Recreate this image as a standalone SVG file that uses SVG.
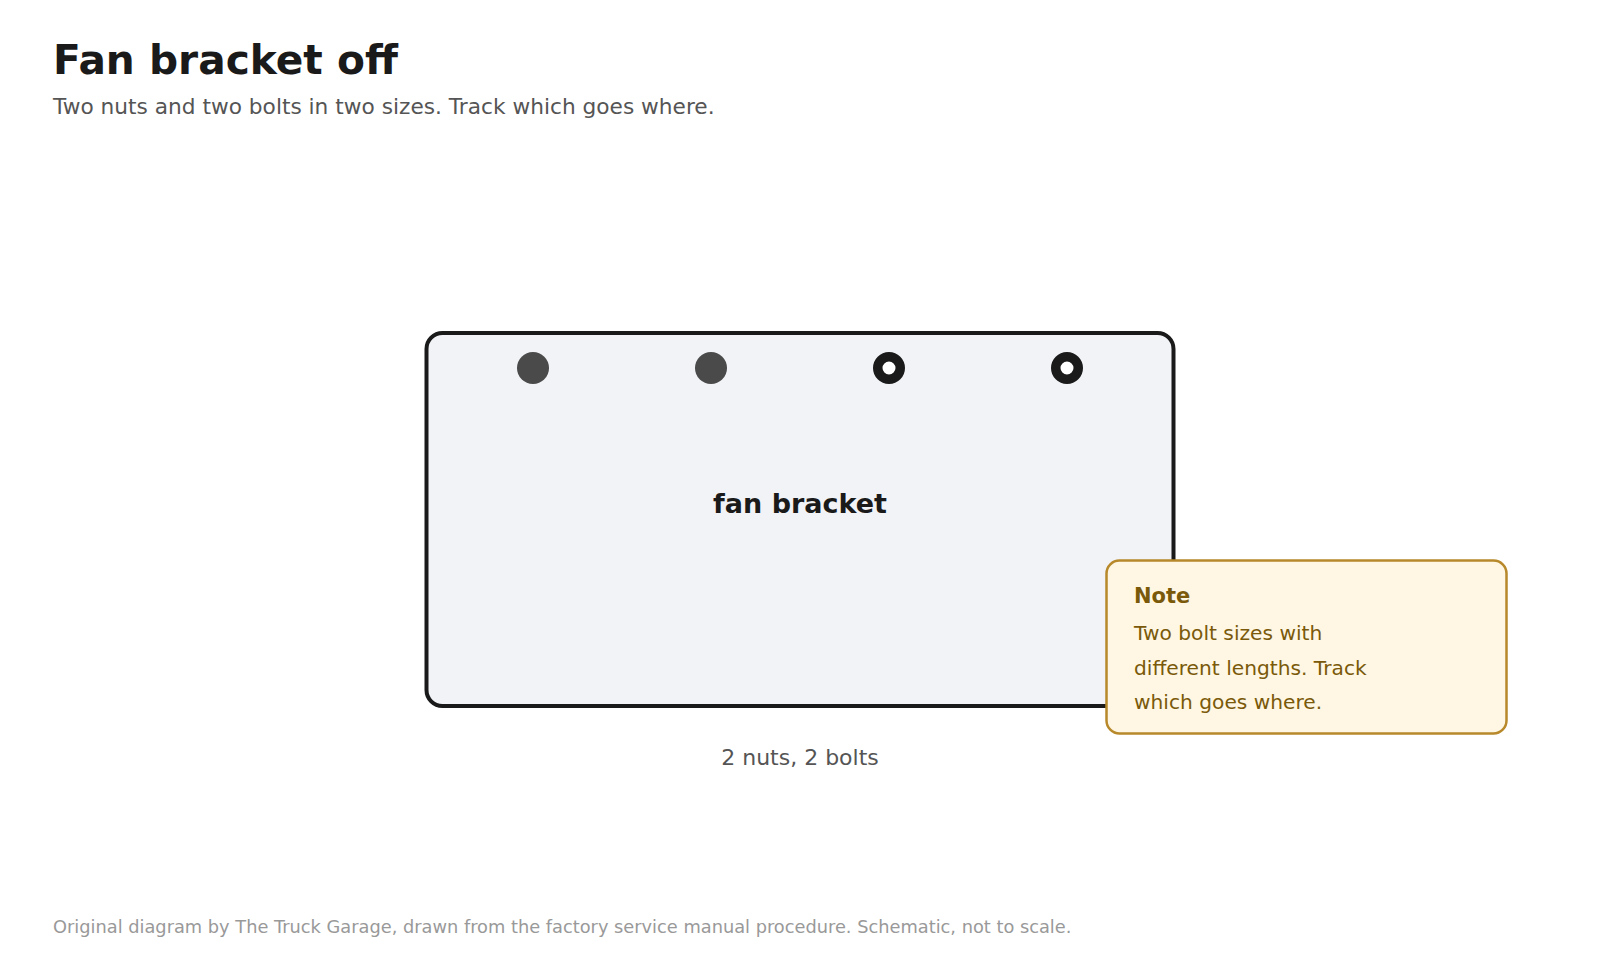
<svg xmlns="http://www.w3.org/2000/svg" width="1600" height="960" viewBox="0 0 1600 960">
<style>
text{font-family:"DejaVu Sans","Liberation Sans",sans-serif}
.title{font-size:40.7px;font-weight:bold;fill:#1a1a1a}
.sub{font-size:21.7px;fill:#555}
.foot{font-size:17.8px;fill:#999}
.bracket{fill:#f2f3f7;stroke:#1a1a1a;stroke-width:4}
.blabel{font-size:27px;font-weight:bold;fill:#1a1a1a}
.cap{font-size:22px;fill:#555}
.solid{fill:#4a4a4a}
.ring{fill:#fff;stroke:#1a1a1a;stroke-width:9.5}
.note{fill:#fff7e4;stroke:#b8892a;stroke-width:2.5}
.nh{font-size:21px;font-weight:bold;fill:#7a5a0a}
.nb{font-size:20.2px;fill:#7a5a0a}
</style>
<rect width="1600" height="960" fill="#fff"/>
<text class="title" x="53" y="74">Fan bracket off</text>
<text class="sub" x="53" y="114">Two nuts and two bolts in two sizes. Track which goes where.</text>
<g id="bracket">
<rect class="bracket" x="426.5" y="333" width="747" height="373" rx="16"/>
<text class="blabel" x="800" y="513" text-anchor="middle">fan bracket</text>
</g>
<g id="hole1"><circle class="solid" cx="533" cy="368" r="16"/></g>
<g id="hole2"><circle class="solid" cx="711" cy="368" r="16"/></g>
<g id="hole3"><circle class="ring" cx="889" cy="368" r="11.25"/></g>
<g id="hole4"><circle class="ring" cx="1067" cy="368" r="11.25"/></g>
<text class="cap" x="800" y="765" text-anchor="middle">2 nuts, 2 bolts</text>
<g id="connectors"></g>
<g id="note">
<rect class="note" x="1106.5" y="560.5" width="400" height="173" rx="13"/>
<text class="nh" x="1134" y="603">Note</text>
<text class="nb" x="1134" y="640">Two bolt sizes with</text>
<text class="nb" x="1134" y="674.5">different lengths. Track</text>
<text class="nb" x="1134" y="709">which goes where.</text>
</g>
<text class="foot" x="53" y="933">Original diagram by The Truck Garage, drawn from the factory service manual procedure. Schematic, not to scale.</text>
</svg>
